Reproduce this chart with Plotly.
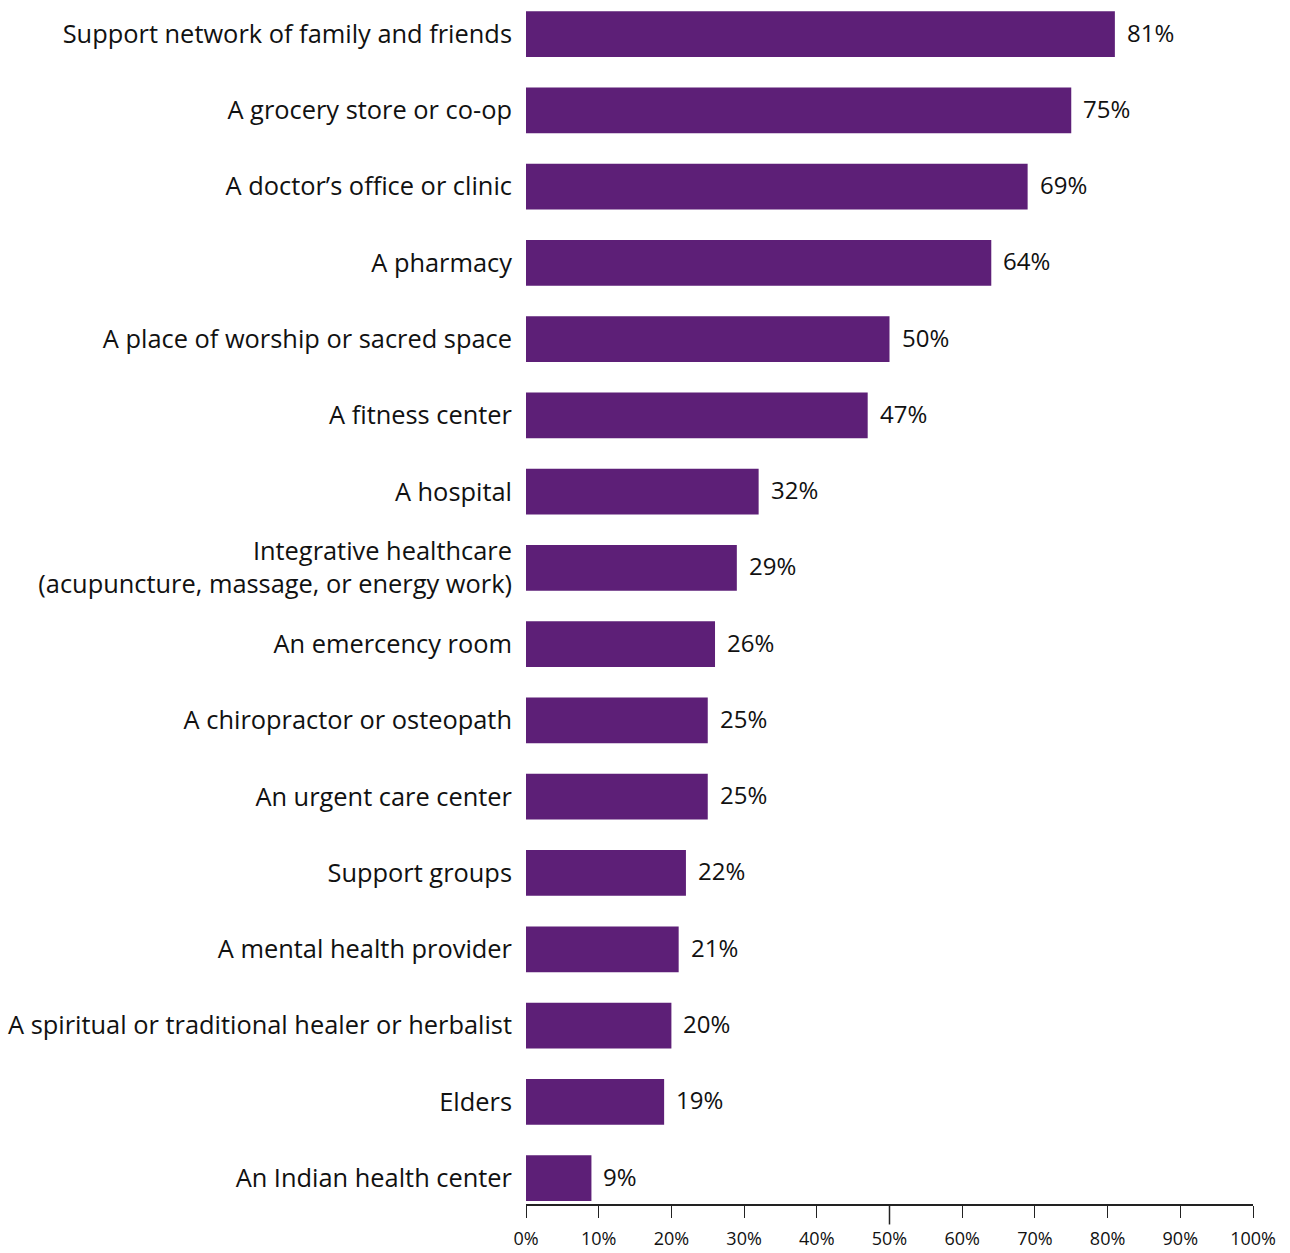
import plotly.graph_objects as go

categories = [
    "Support network of family and friends",
    "A grocery store or co-op",
    "A doctor’s office or clinic",
    "A pharmacy",
    "A place of worship or sacred space",
    "A fitness center",
    "A hospital",
    "Integrative healthcare<br>(acupuncture, massage, or energy work)",
    "An emercency room",
    "A chiropractor or osteopath",
    "An urgent care center",
    "Support groups",
    "A mental health provider",
    "A spiritual or traditional healer or herbalist",
    "Elders",
    "An Indian health center",
]
values = [81, 75, 69, 64, 50, 47, 32, 29, 26, 25, 25, 22, 21, 20, 19, 9]
tick_values = [0, 10, 20, 30, 40, 50, 60, 70, 80, 90, 100]
tick_labels = [f"{v}%" for v in tick_values]

BAR_COLOR = "#5d1f77"
TEXT_COLOR = "#111111"
FONT = "Open Sans"

fig = go.Figure(
    go.Bar(
        x=values,
        y=categories,
        orientation="h",
        marker=dict(color=BAR_COLOR, line=dict(width=0)),
        width=0.6,
        hoverinfo="x+y",
    )
)

# value labels just past the end of each bar
for cat, val in zip(categories, values):
    fig.add_annotation(
        x=val, y=cat, xref="x", yref="y",
        text=f"{val}%",
        showarrow=False,
        xanchor="left", yanchor="middle",
        xshift=10, yshift=2,
        font=dict(family=FONT, size=24, color=TEXT_COLOR),
    )

n = len(categories)
fig.update_layout(
    width=1290,
    height=1253,
    margin=dict(l=526, r=37, t=0, b=49),
    plot_bgcolor="white",
    paper_bgcolor="white",
    showlegend=False,
    font=dict(family=FONT, color=TEXT_COLOR),
    xaxis=dict(
        range=[0, 100],
        tickvals=tick_values,
        ticktext=tick_labels,
        showgrid=False,
        zeroline=False,
        showline=True,
        linecolor="#222222",
        linewidth=1.5,
        ticks="outside",
        ticklen=12,
        tickwidth=1.2,
        tickcolor="#222222",
        tickfont=dict(family=FONT, size=18, color=TEXT_COLOR),
        ticklabelstandoff=6,
        automargin=False,
    ),
    yaxis=dict(
        type="category",
        range=[n - 1 + 0.34, -0.446],
        showgrid=False,
        zeroline=False,
        showline=False,
        ticks="",
        ticklabelstandoff=13,
        tickfont=dict(family=FONT, size=25.4, color=TEXT_COLOR),
        automargin=False,
    ),
)

# longer tick marking the midpoint of the scale
fig.add_shape(
    type="line",
    xref="x", yref="paper",
    x0=50, x1=50, y0=0.0, y1=-0.017,
    line=dict(color="#222222", width=1.5),
)

fig.write_html("out.html")
